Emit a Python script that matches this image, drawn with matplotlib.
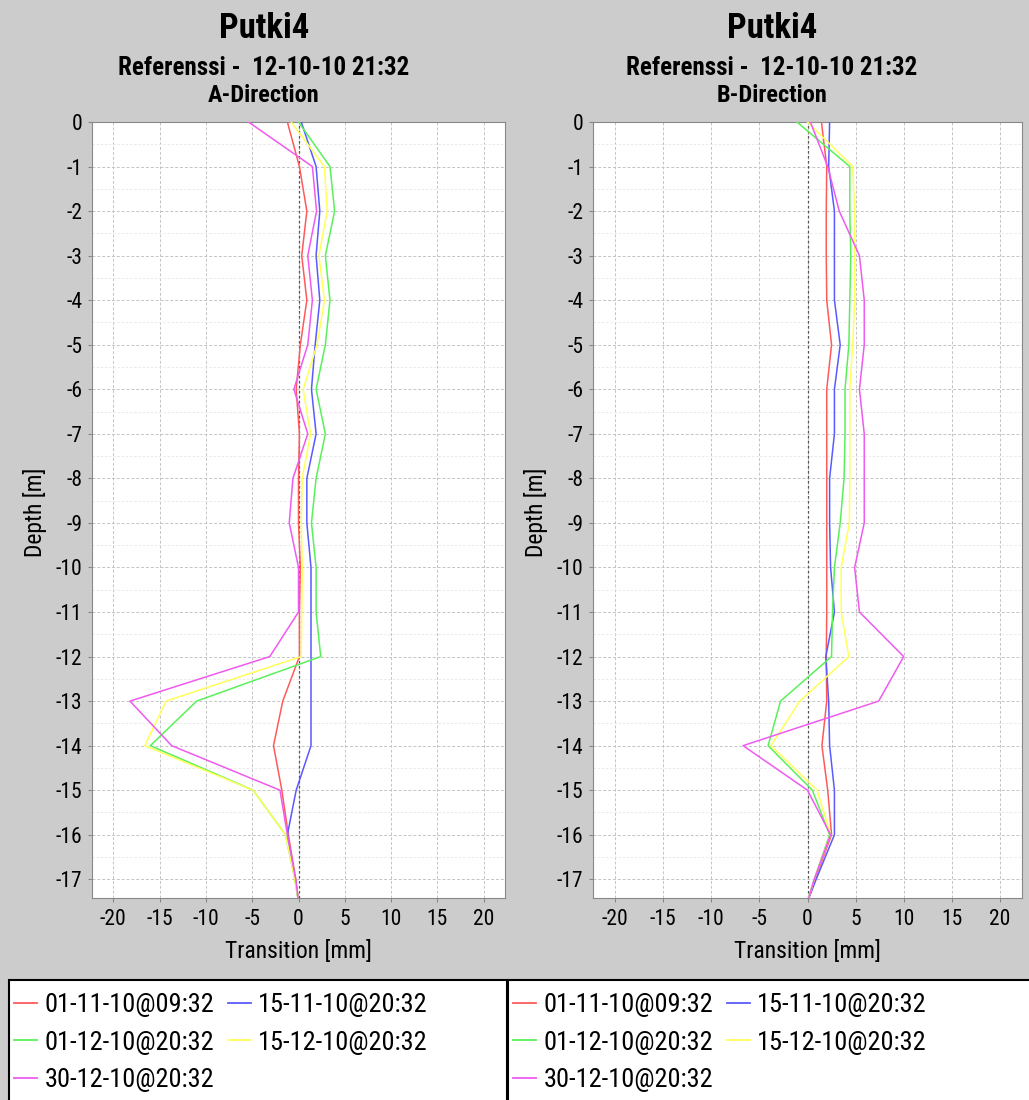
import matplotlib
matplotlib.use("Agg")
import matplotlib.pyplot as plt
from matplotlib import font_manager as fm
from matplotlib.patches import Rectangle
from matplotlib.lines import Line2D

# 数据
depths = [0, -1, -2, -3, -4, -5, -6, -7, -8, -9, -10, -11, -12, -13, -14, -15, -16, -17, -17.5]
labels = ['01-11-10@09:32', '15-11-10@20:32', '01-12-10@20:32', '15-12-10@20:32', '30-12-10@20:32']
colors = ['#ff5a5a', '#5a5aff', '#5af05a', '#ffff5a', '#f05af0']

a_red = [-1.2, 0.1, 0.9, 0.35, 0.9, 0.2, -0.25, 0.1, 0.0, 0.0, 0.2, 0.1, 0.1, -1.7, -2.7, -1.8, -1.1, -0.3, 0.0]
a_blue = [0.3, 1.9, 2.3, 1.9, 2.3, 1.8, 1.4, 1.9, 0.9, 0.9, 1.35, 1.35, 1.35, 1.35, 1.35, -0.25, -1.2, -0.35, 0.0]
a_green = [0.0, 3.4, 3.9, 2.9, 3.4, 2.9, 1.9, 2.9, 1.9, 1.4, 1.9, 1.9, 2.4, -11.0, -16.0, -4.9, -1.4, -0.4, 0.0]
a_yellow = [-0.8, 2.8, 3.1, 2.2, 2.8, 2.0, 0.5, 1.3, 0.4, 0.3, 0.4, 0.35, 0.3, -14.3, -16.6, -4.9, -1.4, -0.4, 0.0]
a_magenta = [-5.4, 1.5, 1.95, 1.0, 1.5, 1.0, -0.5, 1.0, -0.6, -1.0, 0.0, 0.0, -3.1, -18.2, -13.7, -2.0, -1.2, -0.3, 0.0]

b_red = [1.45, 2.0, 1.95, 1.95, 2.0, 2.5, 2.0, 2.0, 2.0, 2.0, 2.0, 2.0, 1.95, 2.0, 1.5, 2.1, 2.5, 0.8, 0.0]
b_blue = [2.3, 2.2, 2.8, 2.8, 2.8, 3.4, 2.8, 2.8, 2.3, 2.3, 2.4, 2.8, 1.9, 2.2, 2.3, 2.8, 2.8, 0.9, 0.0]
b_green = [-1.1, 4.4, 4.4, 4.5, 4.4, 4.3, 3.9, 3.9, 3.8, 3.4, 2.8, 2.6, 2.5, -2.8, -4.1, 0.5, 2.3, 0.7, 0.0]
b_yellow = [0.0, 4.7, 4.9, 4.9, 4.9, 4.7, 4.4, 4.4, 4.4, 4.35, 3.5, 3.5, 4.3, -0.8, -3.8, 1.0, 2.4, 0.7, 0.0]
b_magenta = [0.3, 2.1, 3.3, 5.4, 5.9, 5.9, 5.4, 5.9, 5.9, 5.9, 4.9, 5.4, 10.0, 7.4, -6.7, 0.0, 2.4, 0.7, 0.0]

x_ticks = [-20, -15, -10, -5, 0, 5, 10, 15, 20]
y_ticks = [0, -1, -2, -3, -4, -5, -6, -7, -8, -9, -10, -11, -12, -13, -14, -15, -16, -17]
y_minor = [-0.5, -1.5, -2.5, -3.5, -4.5, -5.5, -6.5, -7.5, -8.5, -9.5, -10.5, -11.5, -12.5, -13.5,
           -14.5, -15.5, -16.5]

# 窄字体（原图文字偏窄偏高）
installed = {f.name for f in fm.fontManager.ttflist}
narrow = next((n for n in ['Roboto Condensed', 'Liberation Sans Narrow', 'Archivo Narrow',
                           'Asap Condensed'] if n in installed), 'DejaVu Sans')
plt.rcParams['font.family'] = [narrow, 'DejaVu Sans']
plt.rcParams['axes.unicode_minus'] = False
BG = '#cccccc'

W, H = 1029, 1100
fig = plt.figure(figsize=(W / 100, H / 100), dpi=100, facecolor=BG)

panels = [
    ('A-Direction', [a_red, a_blue, a_green, a_yellow, a_magenta], 92, 505, 264),
    ('B-Direction', [b_red, b_blue, b_green, b_yellow, b_magenta], 593, 1022, 772),
]

for direction, series, x0, x1, tx in panels:
    ax = fig.add_axes([x0 / W, 1 - 898 / H, (x1 - x0) / W, (898 - 122) / H])
    ax.set_facecolor('white')
    ax.set_xlim(-22.3, 22.3)
    ax.set_ylim(-17.42, 0)
    ax.set_xticks(x_ticks)
    ax.set_yticks(y_ticks)
    ax.set_yticks(y_minor, minor=True)
    ax.tick_params(axis='both', which='major', labelsize=15.5, length=3, color='#888888', width=0.8)
    ax.tick_params(axis='x', which='major', pad=5)
    ax.tick_params(axis='y', which='major', pad=4)
    ax.tick_params(axis='y', which='minor', length=0)
    ax.grid(True, which='major', color='#c4c4c4', ls=(0, (3, 2)), lw=0.7)
    ax.grid(True, which='minor', axis='y', color='#e8e8e8', ls=(0, (3, 2)), lw=0.6)
    ax.set_axisbelow(True)
    for sp in ax.spines.values():
        sp.set_color('#888888')
        sp.set_linewidth(0.8)
    ax.axvline(0, color='#555555', ls=(0, (2, 2)), lw=0.9, zorder=1)
    for vals, c in zip(series, colors):
        ax.plot(vals, depths, color=c, lw=1.1, zorder=3)

    fig.text(tx / W, 1 - 28 / H, 'Putki4', ha='center', va='center', fontsize=25, fontweight='bold')
    fig.text(tx / W, 1 - 68 / H, 'Referenssi -  12-10-10 21:32', ha='center', va='center',
             fontsize=18, fontweight='bold')
    fig.text(tx / W, 1 - 95 / H, direction, ha='center', va='center', fontsize=17.5, fontweight='bold')
    fig.text((x0 - 57) / W, 1 - 512 / H, 'Depth [m]', ha='center', va='center', rotation=90, fontsize=17)
    fig.text((x0 + x1) / 2 / W, 1 - 952 / H, 'Transition [mm]', ha='center', va='center', fontsize=17)

# 图例框
boxes = [(9, 507), (508, 1032)]
order = [0, 2, 4, 1, 3]
for bx0, bx1 in boxes:
    fig.patches.append(Rectangle((bx0 / W, -0.01), (bx1 - bx0) / W, (H - 980) / H + 0.01,
                                 transform=fig.transFigure, facecolor='white',
                                 edgecolor='black', lw=1.5, zorder=0))
    handles = [Line2D([], [], color=colors[i], lw=1.3) for i in order]
    fig.legend(handles, [labels[i] for i in order], ncol=2, frameon=False,
               loc='upper left', bbox_to_anchor=((bx0 + 5) / W, 1 - 993 / H),
               fontsize=19, handlelength=0.88, handletextpad=0.27, columnspacing=0.53,
               labelspacing=0.52, borderaxespad=0, borderpad=0)

fig.savefig('out.png', dpi=100, facecolor=BG)
